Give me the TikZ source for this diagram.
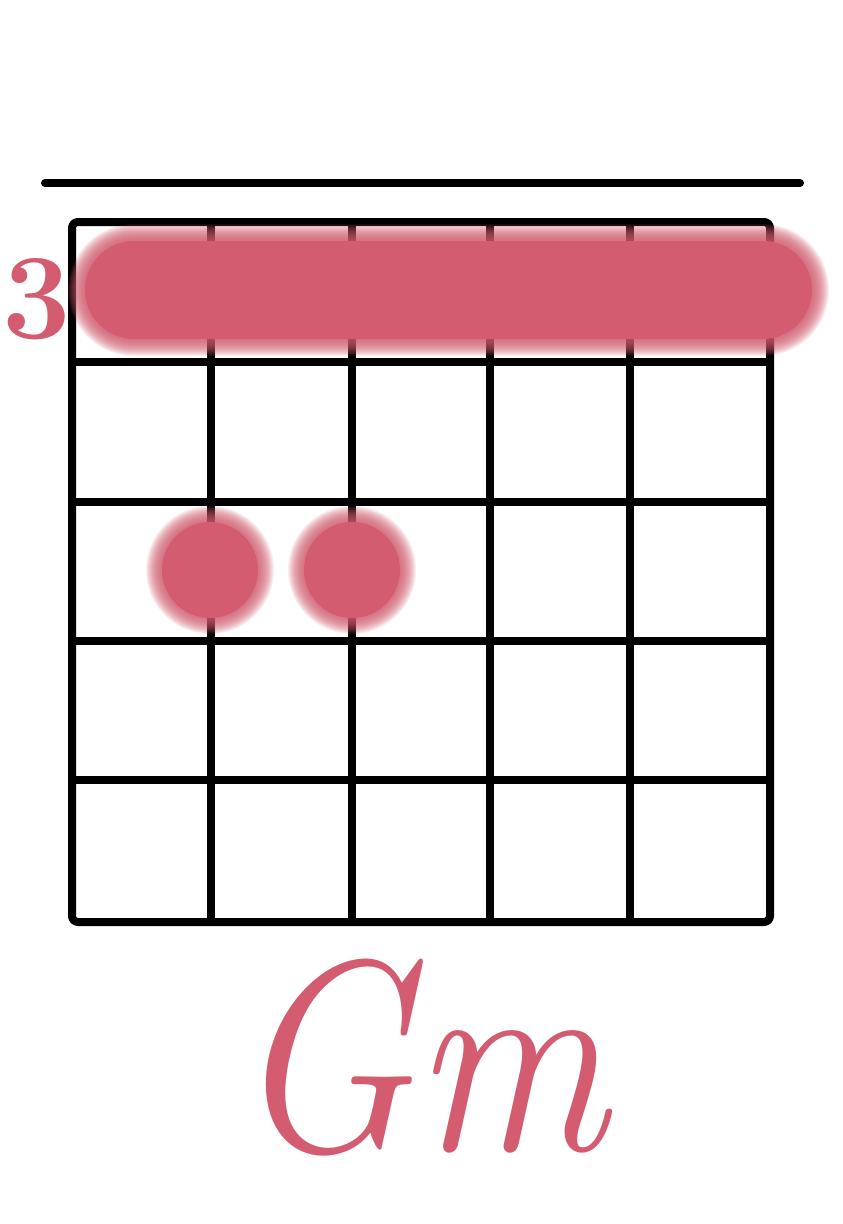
\documentclass[tikz,border=0pt]{standalone}
\definecolor{chordpink}{RGB}{212,92,112}
\begin{document}
\begin{tikzpicture}[x=1pt,y=-1pt,
  gridline/.style={line width=8pt,black,line cap=round,line join=round},
  softlayer/.style={chordpink,opacity=0.1,line cap=round},
]
\useasboundingbox (0,0) rectangle (843,1224);
\fill[white] (0,0) rectangle (843,1224);
% nut line
\coordinate (nutL) at (45,183);
\coordinate (nutR) at (800,183);
\draw[gridline] (nutL) -- (nutR);
% grid
\draw[gridline,rounded corners=6pt] (72,222) rectangle (770,922);
\foreach \x in {211,352,490,630} \draw[gridline] (\x,222) -- (\x,922);
\foreach \y in {362,502,641,780} \draw[gridline] (72,\y) -- (770,\y);
% barre (soft edges)
\coordinate (bL) at (134,290);
\coordinate (bR) at (763,290);
\foreach \w in {132,130,128,126,124,122,120,118,116,114,112,110,108,106,104,102,100}
  \draw[softlayer,line width=\w pt] (bL) -- (bR);
\draw[chordpink,line cap=round,line width=98pt] (bL) -- (bR);
% dots
\coordinate (d1) at (210,570);
\coordinate (d2) at (352,570);
\foreach \p in {d1,d2}{
  \foreach \r in {64,63,62,61,60,59,58,57,56,55,54,53,52,51,50,49}
    \fill[chordpink,opacity=0.1] (\p) circle (\r pt);
  \fill[chordpink] (\p) circle (48pt);
}
% fret number
\node[anchor=base,inner sep=0pt,text=chordpink,font=\bfseries\fontsize{122}{122}\selectfont] (fret) at (37,338) {3};
% chord name
\node[anchor=base,inner sep=0pt,xscale=0.89,text=chordpink,font=\itshape\fontsize{272}{272}\selectfont] (name) at (419,1150) {Gm};
\end{tikzpicture}
\end{document}
